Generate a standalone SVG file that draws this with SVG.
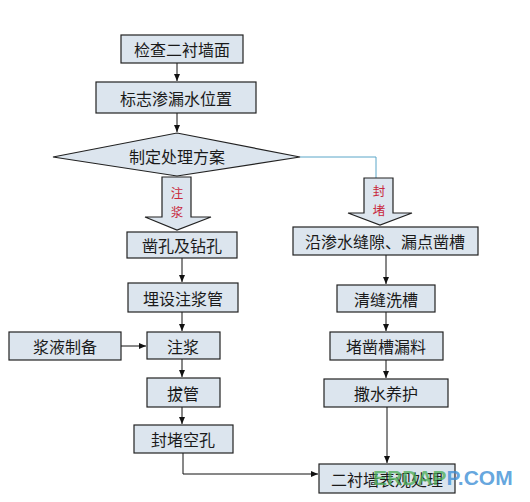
<svg xmlns="http://www.w3.org/2000/svg" width="530" height="502" viewBox="0 0 530 502">
<style>
.box{fill:#dce5ee;stroke:#222;stroke-width:1.2}
.t{font-family:"Noto Sans CJK SC","Liberation Sans",sans-serif;font-size:16px;fill:#1a1a1a;text-anchor:middle;dominant-baseline:central}
.rt{font-family:"Noto Sans CJK SC","Liberation Sans",sans-serif;font-size:12.5px;fill:#c8283c;text-anchor:middle;dominant-baseline:central}
.ln{fill:none;stroke:#111;stroke-width:1}
.fat{fill:#dce5ee;stroke:#222;stroke-width:1.2}
</style>
<defs>
<marker id="ah" markerWidth="8" markerHeight="8" refX="7" refY="4" orient="auto" markerUnits="userSpaceOnUse">
<path d="M0,1 L7,4 L0,7 Z" fill="#111"/>
</marker>
</defs>
<rect width="530" height="502" fill="#ffffff"/>
<g id="connectors">
<line class="ln" x1="177" y1="63" x2="177" y2="81" marker-end="url(#ah)"/>
<line class="ln" x1="177" y1="113" x2="177" y2="132" marker-end="url(#ah)"/>
<polyline points="300,157 376,157 376,178" fill="none" stroke="#5aa6c8" stroke-width="1"/>
<line class="ln" x1="182" y1="258" x2="182" y2="282" marker-end="url(#ah)"/>
<line class="ln" x1="182" y1="312" x2="182" y2="331" marker-end="url(#ah)"/>
<line class="ln" x1="121" y1="346" x2="146" y2="346" marker-end="url(#ah)"/>
<line class="ln" x1="182" y1="359" x2="182" y2="377" marker-end="url(#ah)"/>
<line class="ln" x1="182" y1="407" x2="182" y2="424" marker-end="url(#ah)"/>
<polyline class="ln" points="183,453 183,474 318,474" marker-end="url(#ah)"/>
<line class="ln" x1="386" y1="255" x2="386" y2="284" marker-end="url(#ah)"/>
<line class="ln" x1="386" y1="312" x2="386" y2="331" marker-end="url(#ah)"/>
<line class="ln" x1="386" y1="360" x2="386" y2="378" marker-end="url(#ah)"/>
<line class="ln" x1="387" y1="407" x2="387" y2="463" marker-end="url(#ah)"/>
</g>
<g id="n1"><rect class="box" x="121" y="35" width="122" height="28"/><text class="t" x="182" y="49">检查二衬墙面</text></g>
<g id="n2"><rect class="box" x="96" y="82" width="160" height="31"/><text class="t" x="176" y="97.5">标志渗漏水位置</text></g>
<g id="n3"><polygon class="box" points="53,157 177,133 300,157 177,176"/><text class="t" x="177" y="156">制定处理方案</text></g>
<g id="a1"><polygon class="fat" points="162,177 191,177 191,217 211,217 177,230 145,217 162,217"/><text class="rt"><tspan x="177" y="192">注</tspan><tspan x="177" y="210.5">浆</tspan></text></g>
<g id="a2"><polygon class="fat" points="364,178 393,178 393,213 412,213 380,225 348,213 364,213"/><text class="rt"><tspan x="379" y="190">封</tspan><tspan x="379" y="208.5">堵</tspan></text></g>
<g id="n4"><rect class="box" x="127" y="232" width="110" height="26"/><text class="t" x="182" y="245">凿孔及钻孔</text></g>
<g id="n5"><rect class="box" x="128" y="283" width="110" height="29"/><text class="t" x="183" y="297.5">埋设注浆管</text></g>
<g id="n6"><rect class="box" x="9" y="332" width="112" height="28"/><text class="t" x="65" y="346">浆液制备</text></g>
<g id="n7"><rect class="box" x="147" y="332" width="73" height="27"/><text class="t" x="183" y="345.5">注浆</text></g>
<g id="n8"><rect class="box" x="147" y="378" width="73" height="29"/><text class="t" x="183" y="392.5">拔管</text></g>
<g id="n9"><rect class="box" x="134" y="425" width="99" height="28"/><text class="t" x="183" y="439">封堵空孔</text></g>
<g id="n10"><rect class="box" x="293" y="227" width="185" height="28"/><text class="t" x="385" y="241">沿渗水缝隙、漏点凿槽</text></g>
<g id="n11"><rect class="box" x="337" y="285" width="98" height="27"/><text class="t" x="386" y="298.5">清缝洗槽</text></g>
<g id="n12"><rect class="box" x="330" y="332" width="113" height="28"/><text class="t" x="386" y="346">堵凿槽漏料</text></g>
<g id="n13"><rect class="box" x="324" y="379" width="124" height="28"/><text class="t" x="386" y="393">撒水养护</text></g>
<g id="n14"><rect class="box" x="319" y="464" width="136" height="29"/><text class="t" x="387" y="478.5">二衬墙表观处理</text></g>
<g id="watermark"><text x="373" y="485" font-family="'Liberation Sans',sans-serif" font-size="21" font-weight="bold" fill="#4fae5a" fill-opacity="0.8">ERDAP<tspan fill="#3d8fd6">P.COM</tspan></text></g>
</svg>
